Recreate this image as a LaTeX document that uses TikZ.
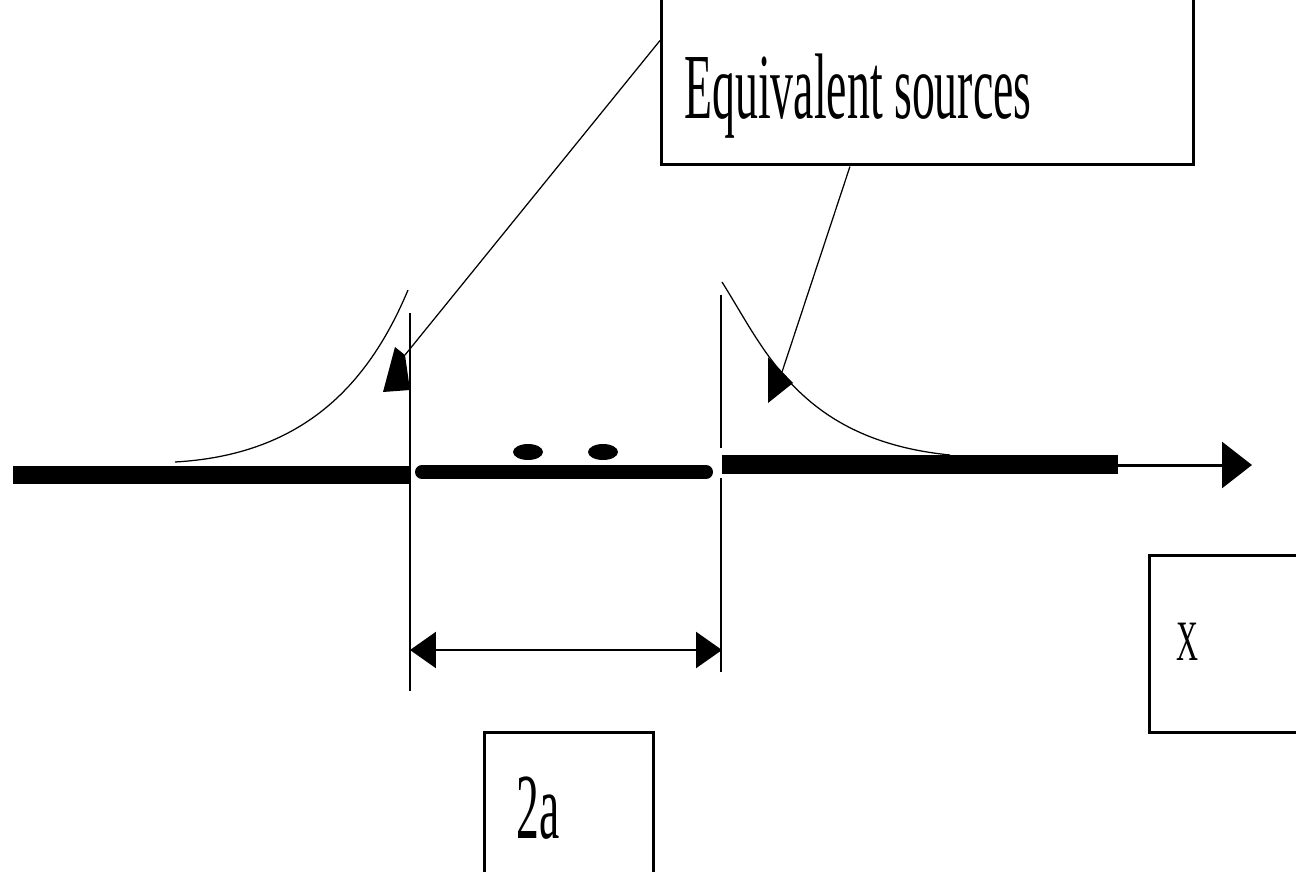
\documentclass[tikz,border=0pt]{standalone}
\usepackage{fontspec}
\setmainfont{Liberation Serif}
\usepackage{graphicx}
\usepackage{tikz}
\usetikzlibrary{calc,positioning,arrows.meta}
\usepackage{xcolor}

\tikzset{
  caja/.style={draw, line width=0.06cm, inner ysep=0pt, anchor=base west},
  guia/.style={line width=0.025cm},
  borde/.style={line width=0.04cm},
  cota/.style={line width=0.05cm,
    {Triangle[length=0.52cm,width=0.72cm]}-{Triangle[length=0.52cm,width=0.72cm]}},
}
\newcommand{\rotulo}[2]{\resizebox{#1}{\height}{\fontsize{53}{60}\selectfont #2}}

\begin{document}
\begin{tikzpicture}[x=0.02cm,y=-0.02cm]
\useasboundingbox (0,0) rectangle (1296,872);
\clip (0,0) rectangle (1296,872);

%====================================================
% CAJAS DE TEXTO
%====================================================
\node[caja, inner xsep=0.46cm, text height=2.76cm, text depth=0.94cm] (fuentes) at (660,118)
  {\makebox[9.72cm][l]{\rotulo{6.94cm}{Equivalent sources}}};
\node[caja, inner xsep=0.54cm, text height=2.1cm, text depth=1.46cm] (ejex) at (1148,660)
  {\makebox[2.36cm][l]{\resizebox{0.44cm}{\height}{\fontsize{32.5}{36}\selectfont X}}};
\node[caja, inner xsep=0.64cm, text height=2.12cm, text depth=1.24cm] (ancho) at (483,838)
  {\makebox[2.1cm][l]{\rotulo{0.86cm}{2a}}};

%====================================================
% EJE Y TRAMOS GRUESOS
%====================================================
\draw[line width=0.36cm] (13,475) -- (410,475);
\draw[line width=0.28cm, line cap=round] (422,472) -- (706,472);
\draw[line width=0.38cm] (722,464.5) -- (1118,464.5);
\draw[line width=0.06cm, -{Triangle[length=0.6cm,width=0.92cm]}] (1116,465) -- (1252,465);
\fill (528,452) ellipse [x radius=15, y radius=8];
\fill (603,452) ellipse [x radius=15, y radius=8];

%====================================================
% BORDES DE LA ZONA 2a Y COTA
%====================================================
\draw[borde] (410,313) -- (410,691);
\draw[borde] (721,295) -- (721,448);
\draw[borde] (721,478) -- (721,672);
\draw[cota] (410,650) -- (722,650);

%====================================================
% FUENTES EQUIVALENTES (DECAIMIENTO)
%====================================================
\draw[guia] (175,462) .. controls (300,455) and (367,388) .. (408,290);
\draw[guia] (722,282) .. controls (765,350) and (800,440) .. (950,455);

\coordinate (puntaI) at (405,355);
\coordinate (puntaD) at (782,372);
\fill (395,347) -- (405,355) -- (410,390) -- (383,392) -- cycle;
\fill (768,357) -- (793,383) -- (768,403) -- cycle;
\draw[guia] ([yshift=-1.24cm]fuentes.north west) -- (puntaI);
\draw[guia] ([xshift=3.8cm]fuentes.south west) -- (puntaD);
\end{tikzpicture}
\end{document}
